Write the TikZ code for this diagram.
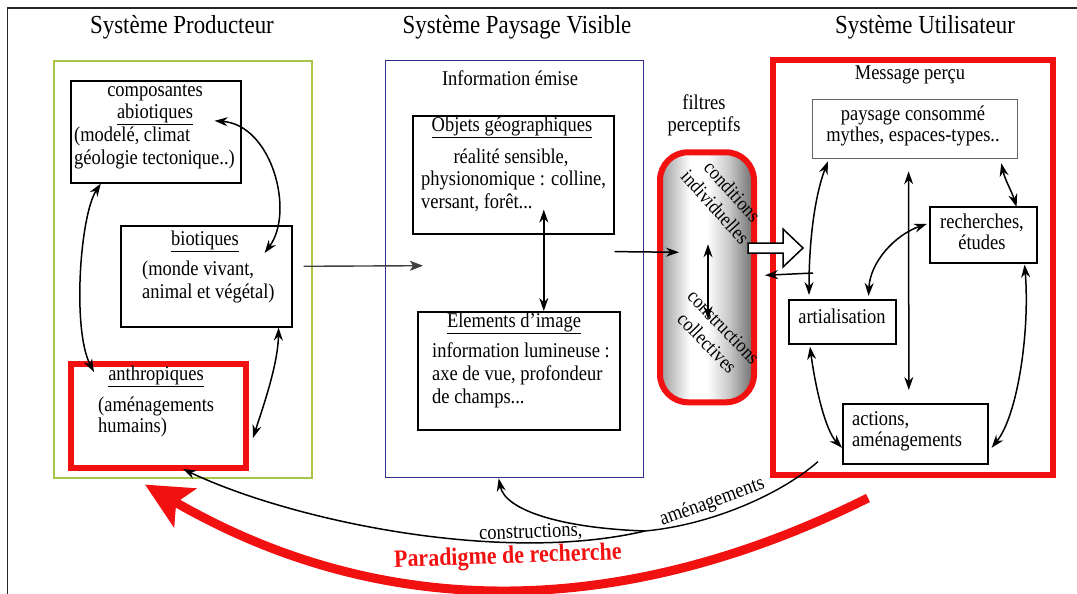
\documentclass[tikz,border=0pt]{standalone}
\usepackage{fontspec}
\setmainfont{Liberation Serif}[FakeStretch=0.88]
\usetikzlibrary{arrows.meta}
\definecolor{pgreen}{HTML}{A8C645}
\definecolor{pblue}{HTML}{30308C}
\definecolor{pred}{HTML}{F21111}
\pgfdeclarehorizontalshading{filtsh}{100bp}{color(0bp)=(black!40); color(25bp)=(black!40); color(41bp)=(white); color(50bp)=(white); color(62bp)=(black!22); color(75bp)=(black!58); color(100bp)=(black!58)}
\begin{document}
\begin{tikzpicture}[x=1pt,y=-1pt,
  every node/.style={font=\fontsize{21}{24}\selectfont, inner sep=0pt, anchor=mid},
  title/.style={font=\fontsize{26}{30}\selectfont},
  lt/.style={anchor=mid west},
  box/.style={draw, line width=1.6pt, anchor=north west},
  redbox/.style={draw=pred, line width=6pt, anchor=north west},
  arr/.style={-{Stealth[length=13pt,width=9pt]}, line width=1.5pt},
  dbl/.style={{Stealth[length=13pt,width=9pt]}-{Stealth[length=13pt,width=9pt]}, line width=1.5pt},
]
\useasboundingbox (0,0) rectangle (1077,594);
% frame
\draw[line width=1.6pt, black!85] (7.5,594) -- (7.5,8) -- (1077,8);

% titles
\node[title] (tP) at (182,31) {Système Producteur};
\node[title] (tV) at (517,31) {Système Paysage Visible};
\node[title] (tU) at (925,31) {Système Utilisateur};

% ---------- producteur ----------
\node[draw=pgreen, line width=1.6pt, anchor=north west, minimum width=258pt, minimum height=417pt] (G) at (53,60) {};
\node[box, minimum width=170pt, minimum height=102pt] (abio) at (70,80) {};
\node (a1) at (155,94) {composantes};
\node (a2) at (155,116) {\underline{abiotiques}};
\node[lt] (a3) at (74,139) {(modelé, climat};
\node[lt] (a4) at (74,162) {géologie tectonique..)};

\node[box, minimum width=171pt, minimum height=101pt] (biot) at (120,225) {};
\node (b1) at (205,243) {\underline{biotiques}};
\node[lt] (b2) at (142,273) {(monde vivant,};
\node[lt] (b3) at (142,296) {animal et végétal)};

\node[redbox, minimum width=175pt, minimum height=104pt] (anth) at (68,361) {};
\node (n1) at (156,378) {\underline{anthropiques}};
\node[lt] (n2) at (98,409) {(aménagements};
\node[lt] (n3) at (98,430) {humains)};

\draw[dbl] ([shift={(-27,-11)}]abio.east) .. controls (272,125) and (295,212) .. ([shift={(-28,28)}]biot.north east);
\draw[dbl] ([xshift=-55pt]abio.south) .. controls (80,215) and (72,330) .. ([shift={(26,11)}]anth.north west);
\draw[dbl] ([xshift=-14pt]biot.south east) .. controls (278,365) and (262,410) .. ([shift={(4,22)}]anth.east);

% ---------- paysage visible ----------
\node[draw=pblue, line width=1.4pt, anchor=north west, minimum width=258pt, minimum height=417pt] (M) at (385,60) {};
\node (m0) at (510,83) {Information émise};
\node[box, minimum width=201pt, minimum height=118pt] (obj) at (412,115) {};
\node (o1) at (512,129) {\underline{Objets géographiques}};
\node (o2) at (511,161) {réalité sensible,};
\node[lt] (o3) at (421,183) {physionomique : colline,};
\node[lt] (o4) at (421,206) {versant, forêt...};
\node[box, minimum width=202pt, minimum height=118pt] (elem) at (417,311) {};
\node (e1) at (514,325) {\underline{Elements d'image}};
\node[lt] (e2) at (432,355) {information lumineuse :};
\node[lt] (e3) at (432,378) {axe de vue, profondeur};
\node[lt] (e4) at (432,401) {de champs...};
\draw[dbl] ([shift={(30.5,-25)}]obj.south) -- ([shift={(25,0)}]elem.north);

\draw[-{Stealth[length=13pt,width=10pt,inset=3pt]}, line width=1.4pt, black!75] ([shift={(11,-10)}]biot.east) -- ([shift={(38,-3.5)}]M.west);

% ---------- filtres ----------
\node (f1) at (704,107) {filtres};
\node (f2) at (704,129) {perceptifs};
\node[draw=pred, line width=6pt, rounded corners=28pt, minimum width=94pt, minimum height=250pt,
      shading=filtsh] (F) at (707,275) {};
\node[rotate=-48, align=center, font=\fontsize{20}{23}\selectfont] (f3) at (712,210) {conditions\\individuelles};
\node[rotate=-46, align=center, font=\fontsize{20}{23}\selectfont] (f5) at (704,346) {constructions\\collectives};
\draw[dbl] ([shift={(1,-33)}]F.center) -- ([shift={(1,42)}]F.center);
\draw[arr] ([yshift=-17pt]obj.south east) -- ([shift={(22,-25)}]F.west);

% ---------- utilisateur ----------
\node[redbox, minimum width=280pt, minimum height=415pt] (R) at (770,57) {};
\node (r0) at (910,77) {Message perçu};
\node[draw=black!60, line width=1.3pt, anchor=north west, minimum width=205pt, minimum height=59pt] (pay) at (812,99) {};
\node (p1) at (913,118) {paysage consommé};
\node (p2) at (913,139) {mythes, espaces-types..};
\node[box, minimum width=107pt, minimum height=56pt] (rech) at (929,206) {};
\node (c1) at (982,226) {recherches,};
\node (c2) at (982,247) {études};
\node[box, minimum width=107pt, minimum height=44pt] (art) at (788,299) {};
\node (s1) at (842,321) {artialisation};
\node[box, minimum width=145pt, minimum height=60pt] (act) at (842,403) {};
\node[lt] (k1) at (852,423) {actions,};
\node[lt] (k2) at (852,444) {aménagements};

\draw[dbl] ([shift={(-6.5,12)}]pay.south) -- ([shift={(-6.5,-13)}]act.north);
\draw[dbl] ([shift={(16,2)}]pay.south west) .. controls (815,195) and (809,240) .. ([shift={(21,-4)}]art.north west);
\draw[dbl] ([shift={(-17,4)}]pay.south east) .. controls (1005,180) and (1012,192) .. ([shift={(-21,1)}]rech.north east);
\draw[dbl] ([shift={(-2,-11)}]rech.west) .. controls (895,235) and (870,262) .. ([shift={(-28,-3)}]art.north east);
\draw[dbl] ([shift={(-13,1)}]rech.south east) .. controls (1030,330) and (1018,415) .. ([shift={(3,14)}]act.east);
\draw[dbl] ([shift={(22,2)}]art.south west) .. controls (815,385) and (825,430) .. ([shift={(0,14)}]act.west);

% block arrow and return arrow
\draw[line width=1.5pt, fill=white] (748,243) -- (783,243) -- (783,229) -- (803,248) -- (783,267) -- (783,253) -- (748,253) -- cycle;
\draw[arr] ([shift={(25,-26)}]art.north west) -- ([shift={(8,-2)}]F.east);

% ---------- bottom curves ----------
\coordinate (sA) at ([shift={(-24,-3)}]act.south west);
\coordinate (mg) at (645,531);
\draw[line width=1.4pt] (sA) .. controls (780,495) and (710,525) .. (mg);
\draw[arr] (mg) .. controls (500,565) and (290,520) .. ([shift={(24.5,-2)}]anth.south);
\draw[arr] (mg) .. controls (560,528) and (505,510) .. ([shift={(-16,0)}]M.south);
\node[anchor=base, rotate=20] (lam) at (714,507) {aménagements};
\node[anchor=base, rotate=2] (lco) at (531,538) {constructions,};

\coordinate (rA) at ([shift={(-188,20)}]R.south east);
\draw[pred, line width=9pt, -{Stealth[length=46pt,width=44pt,inset=10pt]}] (rA) .. controls (617,623) and (379,620) .. ([shift={(92,6)}]G.south west);
\node[text=pred, font=\fontsize{25}{28}\selectfont\bfseries, rotate=2] (para) at (508,561) {Paradigme de recherche};
\end{tikzpicture}
\end{document}
